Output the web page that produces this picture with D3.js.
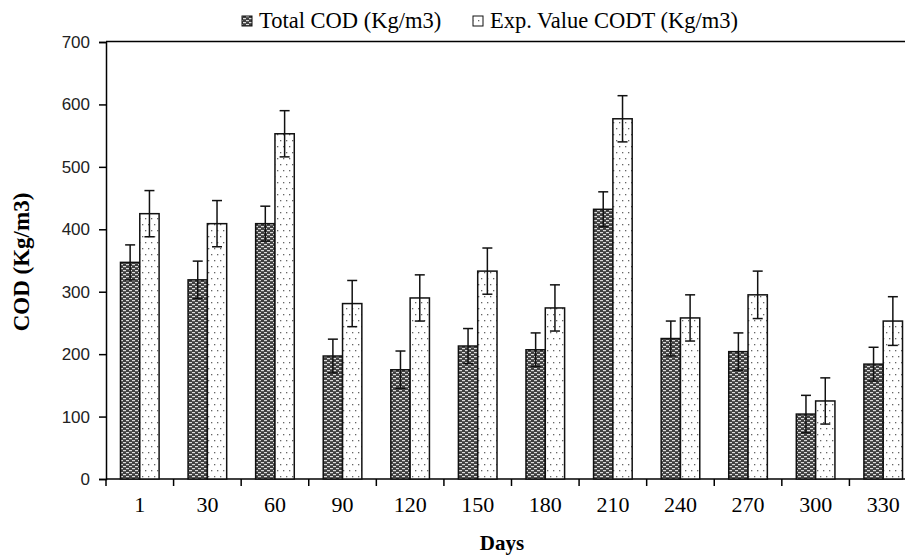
<!DOCTYPE html>
<html>
<head>
<meta charset="utf-8">
<script src="https://cdn.jsdelivr.net/npm/d3@7"></script>
<style>
  body { margin: 0; background: #fff; }
  svg { display: block; }
  .frame { stroke: #000; stroke-width: 1.5; fill: none; }
  .bar { stroke: #111; stroke-width: 1.5; }
  .err { stroke: #111; stroke-width: 1.5; }
</style>
</head>
<body>
<svg id="svg"></svg>
<script>
// data
var days = ["1", "30", "60", "90", "120", "150", "180", "210", "240", "270", "300", "330"];
var totalCOD = [347, 319, 409, 197, 175, 213, 207, 432, 225, 204, 104, 184];
var totalErr = [28, 30, 28, 27, 30, 28, 27, 28, 28, 30, 30, 27];
var expCOD = [425, 409, 553, 281, 290, 333, 274, 577, 258, 295, 125, 253];
var expErr = [37, 37, 37, 37, 37, 37, 37, 37, 37, 38, 37, 39];
var seriesNames = ["Total COD (Kg/m3)", "Exp. Value CODT (Kg/m3)"];
var yTicks = [0, 100, 200, 300, 400, 500, 600, 700];

var serif = "'Liberation Serif', 'Times New Roman', serif";
var sans = "'Liberation Sans', Arial, sans-serif";

svg = d3.select("#svg")
          .attr("width", 905)
          .attr("height", 557);

// patterns
defs = svg.append("defs");

dark = defs.append("pattern").attr("id", "darkPat")
          .attr("patternUnits", "userSpaceOnUse")
          .attr("width", 6).attr("height", 4);
dark.append("rect").attr("width", 6).attr("height", 4).attr("fill", "#404040");
dark.append("rect").attr("x", 0).attr("y", 0).attr("width", 3).attr("height", 1.2).attr("fill", "#dcdcdc");
dark.append("rect").attr("x", 3).attr("y", 2).attr("width", 3).attr("height", 1.2).attr("fill", "#dcdcdc");

light = defs.append("pattern").attr("id", "lightPat")
          .attr("patternUnits", "userSpaceOnUse")
          .attr("width", 6).attr("height", 12);
light.append("rect").attr("width", 6).attr("height", 12).attr("fill", "#fff");
light.append("rect").attr("x", 1).attr("y", 2).attr("width", 1.3).attr("height", 1.3).attr("fill", "#666");
light.append("rect").attr("x", 4).attr("y", 8).attr("width", 1.3).attr("height", 1.3).attr("fill", "#666");

var fills = ["url(#darkPat)", "url(#lightPat)"];

var plotLeft = 106, plotTop = 42, plotBottom = 479, plotRight = 917;

x = d3.scaleBand().domain(days).range([plotLeft, plotRight]).padding(0);
xs = d3.scaleBand().domain([0, 1]).range([0, x.bandwidth()]).paddingInner(0).paddingOuter(0.75);
y = d3.scaleLinear().domain([0, 700]).range([plotBottom, plotTop]);

// frame top line
svg.append("line").attr("class", "frame")
    .attr("x1", plotLeft).attr("x2", 905)
    .attr("y1", plotTop - 0.5).attr("y2", plotTop - 0.5);

// y axis
yAxis = svg.append("g")
    .attr("transform", "translate(" + plotLeft + ",0)")
    .call(d3.axisLeft(y).tickValues(yTicks).tickSize(7).tickPadding(9));
yAxis.selectAll("path, line").attr("stroke", "#000").attr("stroke-width", 1.5);
yAxis.selectAll("text")
    .style("font-family", sans)
    .style("font-size", "17px")
    .attr("fill", "#222");

// x axis: ticks on band boundaries
xAxis = svg.append("g")
    .attr("transform", "translate(0," + plotBottom + ")");
xAxis.append("line").attr("class", "frame")
    .attr("x1", plotLeft).attr("x2", 905).attr("y1", 0).attr("y2", 0);
xAxis.selectAll(".xtick").data(days).enter()
    .append("line").attr("class", "frame")
    .attr("x1", d => x(d)).attr("x2", d => x(d))
    .attr("y1", 0).attr("y2", 7);
xAxis.selectAll(".xlab").data(days).enter()
    .append("text")
    .attr("x", d => x(d) + x.bandwidth() / 2)
    .attr("y", 33)
    .attr("text-anchor", "middle")
    .style("font-family", serif)
    .style("font-size", "22px")
    .text(d => d);

// bars
var series = [
  { vals: totalCOD, errs: totalErr },
  { vals: expCOD, errs: expErr }
];

series.forEach(function (s, si) {
  g = svg.append("g");
  g.selectAll("rect").data(days).enter()
    .append("rect").attr("class", "bar")
    .attr("x", d => x(d) + xs(si))
    .attr("width", xs.bandwidth())
    .attr("y", (d, i) => y(s.vals[i]))
    .attr("height", (d, i) => plotBottom - y(s.vals[i]))
    .attr("fill", fills[si]);

  eg = svg.append("g");
  days.forEach(function (d, i) {
    var cx = x(d) + xs(si) + xs.bandwidth() / 2;
    var hi = y(s.vals[i] + s.errs[i]), lo = y(s.vals[i] - s.errs[i]);
    eg.append("line").attr("class", "err").attr("x1", cx).attr("x2", cx).attr("y1", hi).attr("y2", lo);
    eg.append("line").attr("class", "err").attr("x1", cx - 5).attr("x2", cx + 5).attr("y1", hi).attr("y2", hi);
    eg.append("line").attr("class", "err").attr("x1", cx - 5).attr("x2", cx + 5).attr("y1", lo).attr("y2", lo);
  });
});

// axis titles
svg.append("text")
    .attr("transform", "translate(29,262) rotate(-90)")
    .attr("text-anchor", "middle")
    .style("font-family", serif)
    .style("font-weight", "bold")
    .style("font-size", "23px")
    .text("COD (Kg/m3)");

svg.append("text")
    .attr("x", 502).attr("y", 550)
    .attr("text-anchor", "middle")
    .style("font-family", serif)
    .style("font-weight", "bold")
    .style("font-size", "21px")
    .text("Days");

// legend
var legX = [242, 473];
leg = svg.append("g");
seriesNames.forEach(function (n, i) {
  leg.append("rect")
    .attr("x", legX[i]).attr("y", 16).attr("width", 10).attr("height", 10)
    .attr("fill", fills[i]).attr("stroke", "#111").attr("stroke-width", 1);
  leg.append("text")
    .attr("x", legX[i] + 17).attr("y", 28)
    .style("font-family", serif)
    .style("font-size", "22.5px")
    .text(n);
});
</script>
</body>
</html>
